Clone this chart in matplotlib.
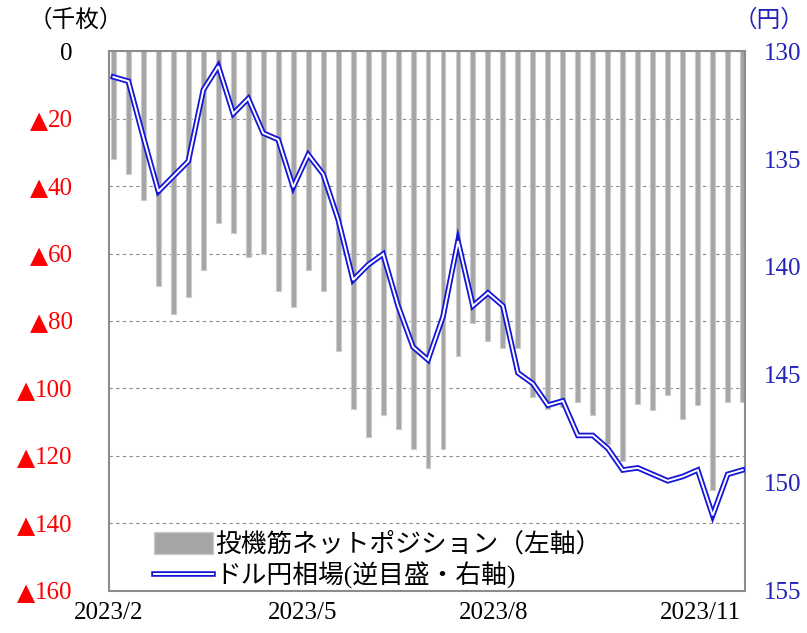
import numpy as np
import matplotlib.pyplot as plt
import matplotlib.patheffects as pe
from matplotlib.patches import Patch

plt.rcParams['font.family'] = ['Liberation Serif', 'Noto Sans CJK JP', 'DejaVu Sans']

# 投機筋ネットポジション（千枚, 売り越し）
position = [32, 36.5, 44, 69.5, 78, 73, 65, 51, 54, 61, 60, 71, 76, 65, 71,
            89, 106, 114.5, 108, 112, 118, 123.5, 118, 90.5, 80.5, 86, 88, 88,
            102.5, 106, 105.5, 104, 108, 116.5, 121.5, 104.5, 106.5, 102, 109,
            105, 130, 104, 104]
# ドル円相場（円）
usdjpy = [131.2, 131.4, 134.0, 136.5, 135.8, 135.1, 131.8, 130.7, 132.9, 132.2,
          133.8, 134.1, 136.3, 134.8, 135.7, 137.8, 140.6, 139.9, 139.4, 141.8,
          143.7, 144.3, 142.3, 138.8, 141.8, 141.2, 141.8, 144.9, 145.4, 146.4,
          146.2, 147.8, 147.8, 148.4, 149.4, 149.3, 149.6, 149.9, 149.7, 149.4,
          151.5, 149.6, 149.4]
xtick_pos = [-0.3, 12.6, 25.4, 39.2]
xtick_labels = ['2023/2', '2023/5', '2023/8', '2023/11']
left_ticks = [0, 20, 40, 60, 80, 100, 120, 140, 160]
right_ticks = [130, 135, 140, 145, 150, 155]

blue = '#1515d8'
fig = plt.figure(figsize=(8.07, 6.33), dpi=100)
ax = fig.add_axes([0.135, 0.0664, 0.788, 0.853])
x = np.arange(len(position))

ax.bar(x, -np.array(position), width=0.33, color='#a5a5a5', edgecolor='#cccccc', lw=0.8, zorder=2)
ax.set_xlim(-0.12, len(position) - 0.85)
ax.set_ylim(-160, 0)
ax.set_yticks([-v for v in left_ticks])
ax.set_yticklabels([str(v) for v in left_ticks], fontsize=18)
for i, t in enumerate(ax.get_yticklabels()):
    t.set_color('black' if i == 0 else 'red')
ax.tick_params(axis='y', length=0, pad=26)
ax.yaxis.grid(True, ls=(0, (3, 3)), color='#8c8c8c', lw=0.8, zorder=1)
ax.set_xticks(xtick_pos)
ax.set_xticklabels(xtick_labels, fontsize=18)
ax.tick_params(axis='x', length=0, pad=8)
for s in ax.spines.values():
    s.set_color('#8c8c8c')
    s.set_linewidth(1.5)

ax2 = ax.twinx()
line, = ax2.plot(x, usdjpy, color='white', lw=1.4, solid_joinstyle='miter', zorder=3,
                 path_effects=[pe.Stroke(linewidth=4.0, foreground=blue), pe.Normal()])
ax2.set_ylim(155, 130)
ax2.set_yticks(right_ticks)
ax2.set_yticklabels([str(v) for v in right_ticks], fontsize=18, color='#2323b8')
ax2.tick_params(axis='y', length=0, pad=14)
for s in ax2.spines.values():
    s.set_visible(False)

fig.text(0.036, 0.968, '（千枚）', fontsize=17, va='center', ha='left')
fig.text(0.997, 0.968, '（円）', fontsize=17, va='center', ha='right', color='#2323b8')

h1 = Patch(facecolor='#a5a5a5', edgecolor='#cccccc')
ax2.legend([h1, line], ['投機筋ネットポジション（左軸）', 'ドル円相場(逆目盛・右軸)'],
           loc='lower left', bbox_to_anchor=(0.046, -0.025), frameon=False,
           fontsize=18.5, handlelength=2.3, handleheight=0.9, handletextpad=0.1,
           labelspacing=0.2, borderaxespad=0.2)

# ▲ marks in front of the negative left-axis labels
fig.canvas.draw()
inv = fig.transFigure.inverted()
for t in ax.get_yticklabels()[1:]:
    bb = t.get_window_extent()
    fx, fy = inv.transform((bb.x0, (bb.y0 + bb.y1) / 2))
    fig.text(fx, fy, '▲', family='DejaVu Sans', fontsize=17, color='red',
             ha='right', va='center')

fig.savefig('out.png', dpi=100)
